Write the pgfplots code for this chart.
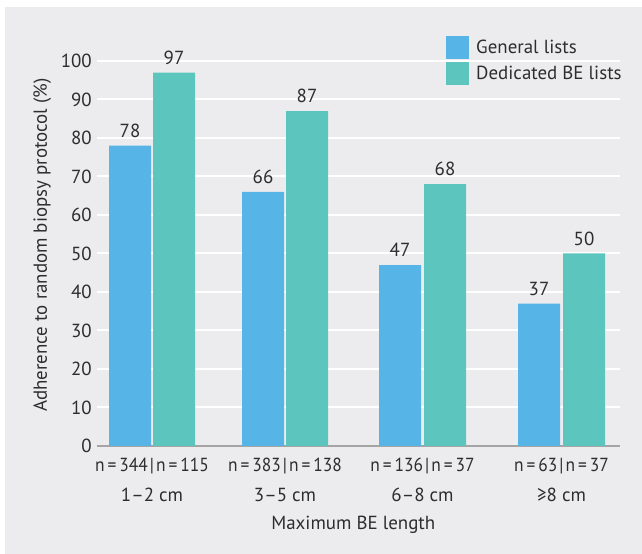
\documentclass[border=0pt]{standalone}
\usepackage{pgfplots}
\pgfplotsset{compat=1.18}
\usepackage{fontspec}
\setmainfont{PT Sans}
\newfontfamily\nfont{PT Sans}[FakeStretch=0.92]
\definecolor{bg}{RGB}{236,236,238}
\definecolor{genblue}{RGB}{86,180,230}
\definecolor{dedteal}{RGB}{92,197,189}
\definecolor{txt}{RGB}{45,45,45}
\definecolor{axisgray}{RGB}{165,165,165}
\newcommand{\lblfont}{\fontsize{19}{30}\selectfont}
% narrow spacing for the sample size lines
\newcommand{\nn}[2]{{\nfont n\hspace{3bp}=\hspace{3bp}#1\hspace{2bp}|\hspace{2bp}n\hspace{3bp}=\hspace{3bp}#2}}
\begin{document}
\begin{tikzpicture}[x=1bp,y=1bp]
\path[use as bounding box] (0,0) rectangle (642,554);
\fill[bg] (5,0) rectangle (642,547);
\begin{axis}[
  at={(97bp,108bp)}, anchor=south west,
  scale only axis, width=523bp, height=385bp,
  xmin=97, xmax=620, ymin=0, ymax=100,
  clip=false,
  axis x line*=bottom, axis y line*=left,
  x axis line style={axisgray, line width=2.5bp, -},
  y axis line style={draw=none},
  major tick length=0pt,
  ytick={0,10,...,100},
  ymajorgrids,
  major grid style={white, line width=2bp},
  xtick={152,285,422.5,561.5},
  xticklabels={{\nn{344}{115}\\1–2 cm},{\nn{383}{138}\\3–5 cm},{\nn{136}{37}\\6–8 cm},{\nn{63}{37}\\≥8 cm}},
  xticklabel style={align=center, font=\lblfont, text=txt, inner sep=0pt, yshift=-12bp},
  yticklabel style={font=\lblfont, text=txt, inner sep=0pt, xshift=-5bp},
  /pgf/number format/assume math mode=true,
  ylabel={Adherence to random biopsy protocol (\%)},
  ylabel style={at={(axis description cs:-0.105,0.522)}, anchor=center, font=\lblfont, text=txt},
  xlabel={Maximum BE length},
  xlabel style={at={(axis description cs:0.49,-0.205)}, anchor=center, font=\lblfont, text=txt},
  nodes near coords,
  nodes near coords style={font=\lblfont, text=txt, inner sep=0pt, anchor=south, yshift=8bp},
  legend style={at={(axis cs:446,106.5)}, anchor=north west, draw=none, fill=none,
    font=\lblfont, text=txt, row sep=3bp, inner sep=0pt,
    nodes={inner sep=0pt},
    /tikz/every odd column/.append style={column sep=7bp}},
  legend cell align=left,
  legend image code/.code={\fill[#1] (0bp,-11.5bp) rectangle (23bp,11.5bp);},
]
\addplot[ybar, bar width=42, bar shift=0pt, fill=genblue, draw=none]
  coordinates {(130,78) (263,66) (400,47) (539,37)};
\addlegendentry{General lists}
\addplot[ybar, bar width=42, bar shift=0pt, fill=dedteal, draw=none]
  coordinates {(174,97) (307,87) (445,68) (584,50)};
\addlegendentry{Dedicated BE lists}
\end{axis}
\end{tikzpicture}
\end{document}
